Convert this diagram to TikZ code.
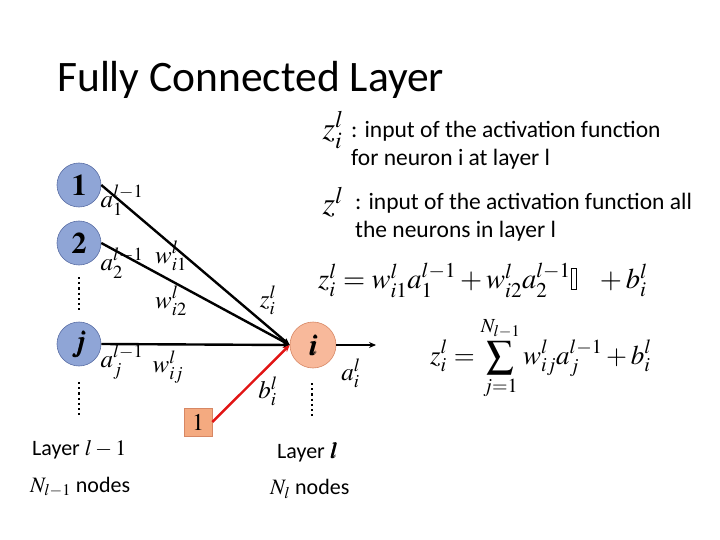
\documentclass[tikz,border=0pt]{standalone}
\usepackage{mathptmx}
\usepackage{bm}
\usepackage{fontspec}
\setmainfont{Carlito}
\usetikzlibrary{arrows.meta}
\definecolor{bluefill}{RGB}{143,165,214}
\definecolor{blueline}{RGB}{90,110,165}
\definecolor{orfill}{RGB}{248,185,155}
\definecolor{orline}{RGB}{215,135,100}
\definecolor{boxfill}{RGB}{244,170,128}
\definecolor{redline}{RGB}{225,20,20}
\newcommand{\mybox}{{\setlength{\fboxsep}{0pt}\setlength{\fboxrule}{0.6pt}\fbox{\rule{0pt}{20pt}\hspace{5pt}}}}
\begin{document}
\begin{tikzpicture}[x=1pt,y=-1pt,
  inneuron/.style={circle,draw=blueline,fill=bluefill,line width=0.6pt,minimum size=44pt,inner sep=0pt,font=\fontsize{30}{32}\selectfont},
  outneuron/.style={circle,draw=orline,fill=orfill,line width=0.6pt,minimum size=46pt,inner sep=0pt,font=\fontsize{30}{32}\selectfont},
  biasbox/.style={draw=orline,fill=boxfill,line width=0.6pt,minimum size=28pt,inner sep=0pt,font=\fontsize{24}{26}\selectfont},
  wire/.style={line width=2.4pt,-{Stealth[length=7pt,width=6pt]}},
  redwire/.style={line width=2.4pt,draw=redline,-{Stealth[length=7pt,width=6pt]}},
  lbl/.style={inner sep=0pt,font=\fontsize{25}{27}\selectfont},
  txt/.style={inner sep=0pt,anchor=west,font=\fontsize{23.5}{28}\selectfont,align=left},
  btxt/.style={inner sep=0pt,anchor=west,font=\fontsize{22}{26}\selectfont},
  eq/.style={inner sep=0pt,font=\fontsize{28.5}{32}\selectfont},
  eqb/.style={inner sep=0pt,font=\fontsize{27}{32}\selectfont},
  dotline/.style={line width=2.2pt,dash pattern=on 2.2pt off 3pt}]
\useasboundingbox (0,0) rectangle (720,540);
% title
\node[anchor=west,inner sep=0pt,font=\fontsize{43.5}{48}\selectfont] (title) at (57,80) {Fully Connected Layer};
% neurons
\node[inneuron] (n1) at (79,185) {$\mathbf{1}$};
\node[inneuron] (n2) at (79,243) {$\mathbf{2}$};
\node[inneuron] (nj) at (79,344) {$\bm{j}$};
\node[outneuron] (ni) at (313,345) {$\bm{i}$};
\node[biasbox] (bb) at (198,422) {$1$};
\coordinate (outend) at (376,345);
% dots
\coordinate (d1a) at (79,277); \coordinate (d1b) at (79,311);
\coordinate (d2a) at (79,382); \coordinate (d2b) at (79,416);
\coordinate (d3a) at (312,383); \coordinate (d3b) at (312,417);
\draw[dotline] (d1a) -- (d1b);
\draw[dotline] (d2a) -- (d2b);
\draw[dotline] (d3a) -- (d3b);
% connections
\draw[wire] (n1.east) -- (ni.west);
\draw[wire] (n2.east) -- (ni.west);
\draw[wire] (nj.east) -- (ni.west);
\draw[redwire] (bb.east) -- (ni.west);
\draw[wire] (ni.east) -- (outend);
% labels
\node[lbl] (la1) at (122,200) {$a_1^{l-1}$};
\node[lbl] (la2) at (122,263) {$a_2^{l-1}$};
\node[lbl] (laj) at (122,362) {$a_j^{l-1}$};
\node[lbl] (lw1) at (171,256) {$w_{i1}^l$};
\node[lbl] (lw2) at (171,301) {$w_{i2}^l$};
\node[lbl] (lwj) at (168,367) {$w_{ij}^l$};
\node[lbl] (lz) at (268,300) {$z_i^l$};
\node[lbl] (lb) at (268,391) {$b_i^l$};
\node[lbl] (lai) at (351,373) {$a_i^l$};
% right side text
\node[eq,font=\fontsize{32}{34}\selectfont] (zdef) at (333,130) {$z_i^l$};
\node[txt] (t1) at (351,145) {: input of the activation function\\for neuron i at layer l};
\node[eq,font=\fontsize{32}{34}\selectfont] (zall) at (333,202) {$z^l$};
\node[txt] (t2) at (355,217) {: input of the activation function all\\the neurons in layer l};
\node[eq,anchor=west] (eq1) at (318,280) {$z_i^l = w_{i1}^l a_1^{l-1} + w_{i2}^l a_2^{l-1}\mybox\;\;\; + b_i^l$};
\node[eqb,anchor=west] (eq2) at (430,358) {$\displaystyle z_i^l = \sum_{j=1}^{N_{l-1}} w_{ij}^l a_j^{l-1} + b_i^l$};
% bottom
\node[btxt] (lay1) at (32,450) {Layer $l-1$};
\node[btxt] (nod1) at (30,487) {$N_{l-1}$ nodes};
\node[btxt] (lay2) at (277,452) {Layer $\bm{l}$};
\node[btxt] (nod2) at (270,489) {$N_l$ nodes};
\end{tikzpicture}
\end{document}
